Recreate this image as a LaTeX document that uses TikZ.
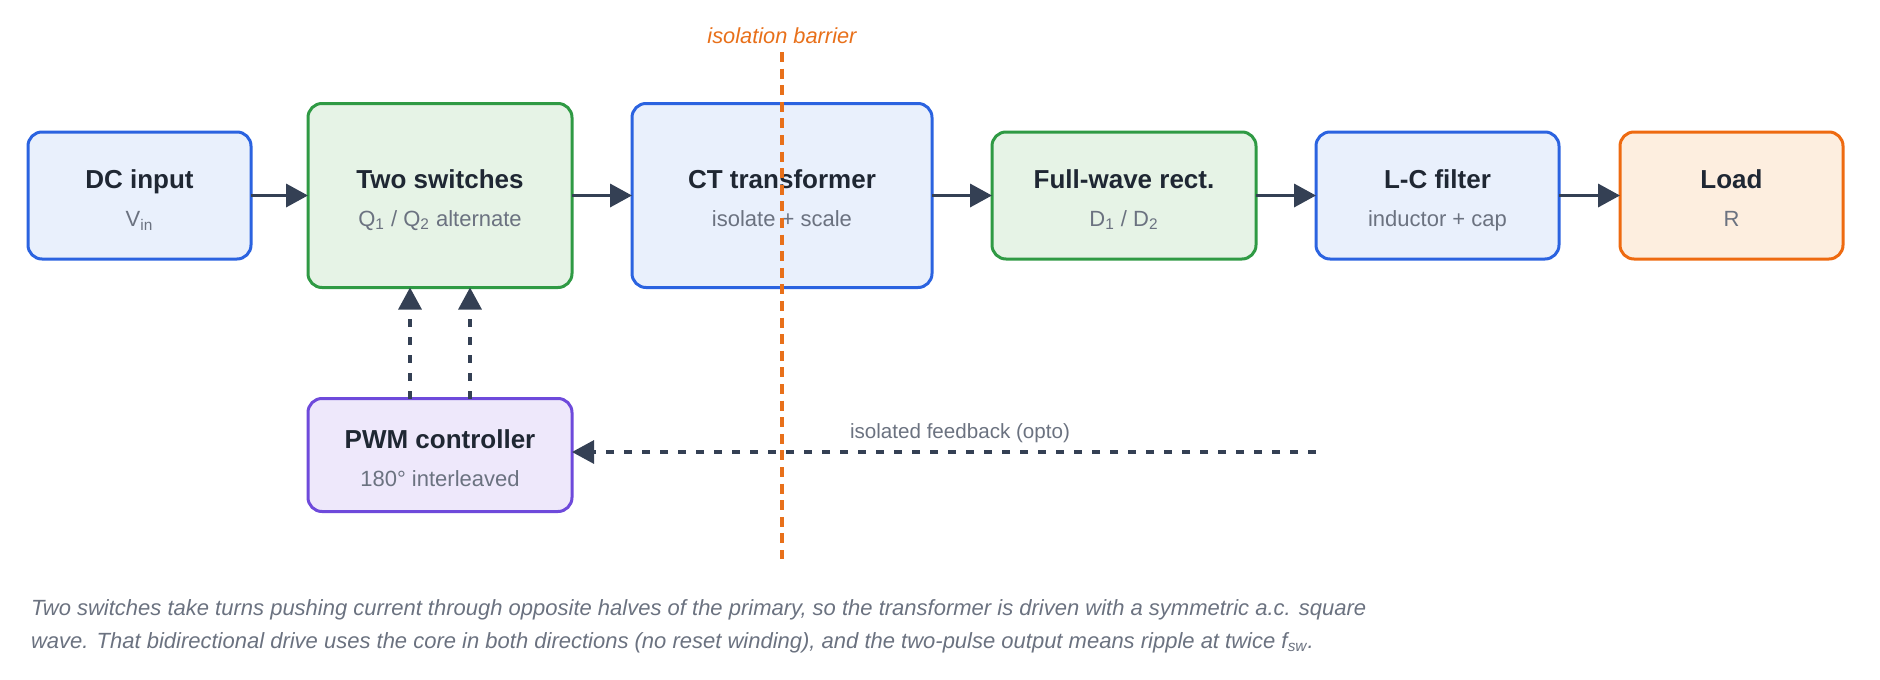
\documentclass[tikz,border=0pt]{standalone}
\usepackage{fontspec}
\setmainfont{Liberation Sans}
\usetikzlibrary{
  arrows.meta,
  positioning,
  calc
}
\definecolor{pwBlue}{HTML}{2B63E0}
\definecolor{pwBlueFill}{HTML}{E9F0FC}
\definecolor{pwGreen}{HTML}{2F9A44}
\definecolor{pwGreenFill}{HTML}{E6F3E6}
\definecolor{pwOrange}{HTML}{EE6A10}
\definecolor{pwOrangeFill}{HTML}{FDEEDF}
\definecolor{pwPurple}{HTML}{6E4ADB}
\definecolor{pwPurpleFill}{HTML}{EEE8FB}
\definecolor{pwArrow}{HTML}{344054}
\definecolor{pwInk}{HTML}{1F2733}
\definecolor{pwSub}{HTML}{6B7280}
\definecolor{pwBarrier}{HTML}{E8701A}
\tikzset{
  blk/.style={
    draw, rounded corners=7pt, line width=1.5pt, inner sep=0pt, outer sep=0pt,
    minimum width=132pt, minimum height=63.5pt
  },
  dcblk/.style={blk, fill=pwBlueFill, draw=pwBlue},
  swblk/.style={blk, fill=pwGreenFill, draw=pwGreen},
  loadblk/.style={blk, fill=pwOrangeFill, draw=pwOrange},
  ctrlblk/.style={blk, fill=pwPurpleFill, draw=pwPurple},
  blktitle/.style={font=\fontsize{13}{15}\selectfont\bfseries, text=pwInk, anchor=base},
  blksub/.style={font=\fontsize{11}{13}\selectfont, text=pwSub, anchor=base},
  power/.style={-{Triangle[length=11pt, width=11.5pt]}, line width=1.8pt, pwArrow},
  gate/.style={power, line width=1.6pt, dash pattern=on 4pt off 5pt},
  barrier/.style={line width=1.6pt, pwBarrier, dash pattern=on 5pt off 3.3pt},
  tag/.style={font=\fontsize{10.3}{12}\selectfont, text=pwSub},
  note/.style={font=\fontsize{11}{13}\selectfont\itshape, text=pwSub, anchor=base west}
}

\begin{document}
\begin{tikzpicture}[x=0.5pt, y=-0.5pt, node distance=30pt]
  \useasboundingbox (0,0) rectangle (1880,680);

  % power path
  \node[dcblk, minimum width=111.5pt] (dcin) at (139.5,195.5) {};
  \node[swblk, right=28.5pt of dcin, minimum height=92pt] (sw) {};
  \node[dcblk, right=of sw, minimum width=150pt, minimum height=92pt] (ct) {};
  \node[swblk, right=of ct] (rect) {};
  \node[dcblk, right=of rect, minimum width=121.5pt] (lcf) {};
  \node[loadblk, right=30.5pt of lcf, minimum width=111.5pt] (load) {};
  \node[ctrlblk, below=55.5pt of sw, minimum height=56.5pt] (pwm) {};

  \foreach \nm/\ttl/\sbt in {
    dcin/{DC input}/{V\textsubscript{in}},
    sw/{Two switches}/{Q\textsubscript{1} / Q\textsubscript{2} alternate},
    ct/{CT transformer}/{isolate + scale},
    rect/{Full-wave rect.}/{D\textsubscript{1} / D\textsubscript{2}},
    lcf/{L-C filter}/{inductor + cap},
    load/{Load}/{R},
    pwm/{PWM controller}/{180° interleaved}}{
    \node[blktitle] (\nm-t) at ($(\nm.center)+(0,-7)$) {\ttl};
    \node[blksub] (\nm-s) at ($(\nm.center)+(0,31)$) {\sbt};
  }

  \draw[power] (dcin) -- (sw);
  \draw[power] (sw) -- (ct);
  \draw[power] (ct) -- (rect);
  \draw[power] (rect) -- (lcf);
  \draw[power] (lcf) -- (load);

  % gate drive + feedback
  \draw[gate] ([xshift=-15pt]pwm.north) -- ([xshift=-15pt]sw.south);
  \draw[gate] ([xshift=15pt]pwm.north) -- ([xshift=15pt]sw.south);
  \coordinate (fbsrc) at (1316,452);
  \draw[gate] (fbsrc) -- (pwm.east |- fbsrc);
  \node[tag] (fbtag) at (960,433) {isolated feedback (opto)};

  % isolation barrier
  \coordinate (bartop) at (782,52);
  \coordinate (barbot) at (782,559);
  \draw[barrier] (bartop) -- (barbot);
  \node[tag, font=\fontsize{10.9}{13}\selectfont\itshape, text=pwBarrier] (bartag) at (782,36) {isolation barrier};

  \node[note] (cap1) at (24,615) {Two switches take turns pushing current through opposite halves of the primary, so the transformer is driven with a symmetric a.c. square};
  \node[note] (cap2) at (24,648) {wave. That bidirectional drive uses the core in both directions (no reset winding), and the two-pulse output means ripple at twice \textit{f}\textsubscript{\itshape sw}.};
\end{tikzpicture}
\end{document}
